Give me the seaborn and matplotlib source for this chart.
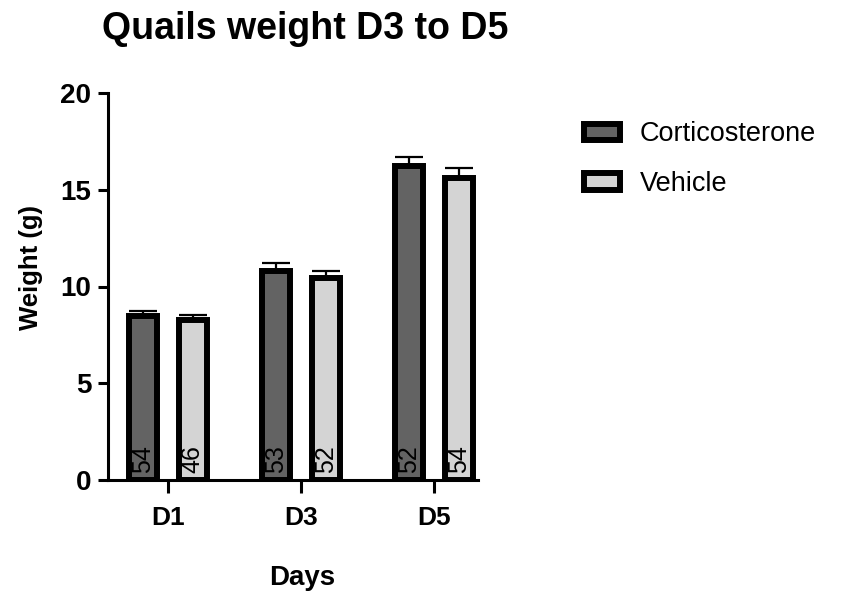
import numpy as np
import pandas as pd
import matplotlib
matplotlib.use("Agg")
import matplotlib.pyplot as plt
from matplotlib.patches import Patch
import seaborn as sns

# ── Data ──────────────────────────────────────────────────────────────────────
days = ["D1", "D3", "D5"]
groups = ["Corticosterone", "Vehicle"]
cort_mean = [8.45, 10.79, 16.21]
cort_sem = [0.30, 0.40, 0.50]
veh_mean = [8.28, 10.46, 15.61]
veh_sem = [0.26, 0.36, 0.53]
cort_n = [54, 53, 52]
veh_n = [46, 52, 54]

colors = {"Corticosterone": "#636363", "Vehicle": "#d4d4d4"}

df = pd.DataFrame({
    "Days": days * 2,
    "Group": [groups[0]] * 3 + [groups[1]] * 3,
    "Weight": cort_mean + veh_mean,
})
sems = {groups[0]: cort_sem, groups[1]: veh_sem}
ns = {groups[0]: cort_n, groups[1]: veh_n}

sns.set_theme(style="ticks")
plt.rcParams["font.family"] = ["Liberation Sans", "DejaVu Sans"]
plt.rcParams["text.color"] = "black"
plt.rcParams["axes.labelcolor"] = "black"

fig = plt.figure(figsize=(8.54, 5.95), dpi=100)
ax = fig.add_axes([108 / 854, 1 - 480 / 595, 370 / 854, (480 - 93) / 595])

sns.barplot(data=df, x="Days", y="Weight", hue="Group", order=days,
            hue_order=groups, palette=colors, errorbar=None,
            width=0.75, gap=0.45, edgecolor="black", linewidth=4.3,
            legend=False, ax=ax, zorder=3)

# error bars (one-sided, SEM) + n labels inside bars
for grp, cont in zip(groups, ax.containers):
    xs = [p.get_x() + p.get_width() / 2 for p in cont.patches]
    hs = [p.get_height() for p in cont.patches]
    ax.errorbar(xs, hs, yerr=[np.zeros(len(hs)), sems[grp]], fmt="none",
                ecolor="black", elinewidth=1.6, capsize=10, capthick=1.6,
                zorder=2)
    for x, n in zip(xs, ns[grp]):
        ax.text(x, 0.35, str(n), rotation=90, ha="center", va="bottom",
                fontsize=18, color="black", zorder=4)

ax.set_ylim(0, 20)
ax.set_yticks([0, 5, 10, 15, 20])
ax.set_xlim(-0.45, 2.33)
sns.despine(ax=ax)
for s in ["left", "bottom"]:
    ax.spines[s].set_linewidth(2.2)
    ax.spines[s].set_color("black")
ax.tick_params(axis="y", length=7, width=2.2, labelsize=20, pad=5,
               colors="black")
ax.tick_params(axis="x", length=9, width=2.2, labelsize=19, pad=10,
               colors="black")
for lbl in ax.get_xticklabels() + ax.get_yticklabels():
    lbl.set_fontweight("bold")

ax.set_xlabel("Days", fontsize=20, fontweight="bold")
ax.set_ylabel("Weight (g)", fontsize=18.5, fontweight="bold")
ax.xaxis.set_label_coords((302 - 108) / 370, -(578 - 480) / 387)
ax.yaxis.set_label_coords(-(108 - 31) / 370, (480 - 268) / 387)
ax.xaxis.label.set_va("center")
ax.yaxis.label.set_va("center")

fig.text(305 / 854, 1 - 29 / 595, "Quails weight D3 to D5", ha="center",
         va="center", fontsize=27, fontweight="bold")

handles = [Patch(facecolor=colors[g], edgecolor="black", linewidth=4.3)
           for g in groups]
fig.legend(handles, groups, loc="upper left",
           bbox_to_anchor=(560 / 854, 1 - 97 / 595), frameon=False,
           fontsize=19.5, handlelength=1.3, handleheight=0.56,
           handletextpad=0.75, labelspacing=0.88)

fig.savefig("out.png", dpi=100)
